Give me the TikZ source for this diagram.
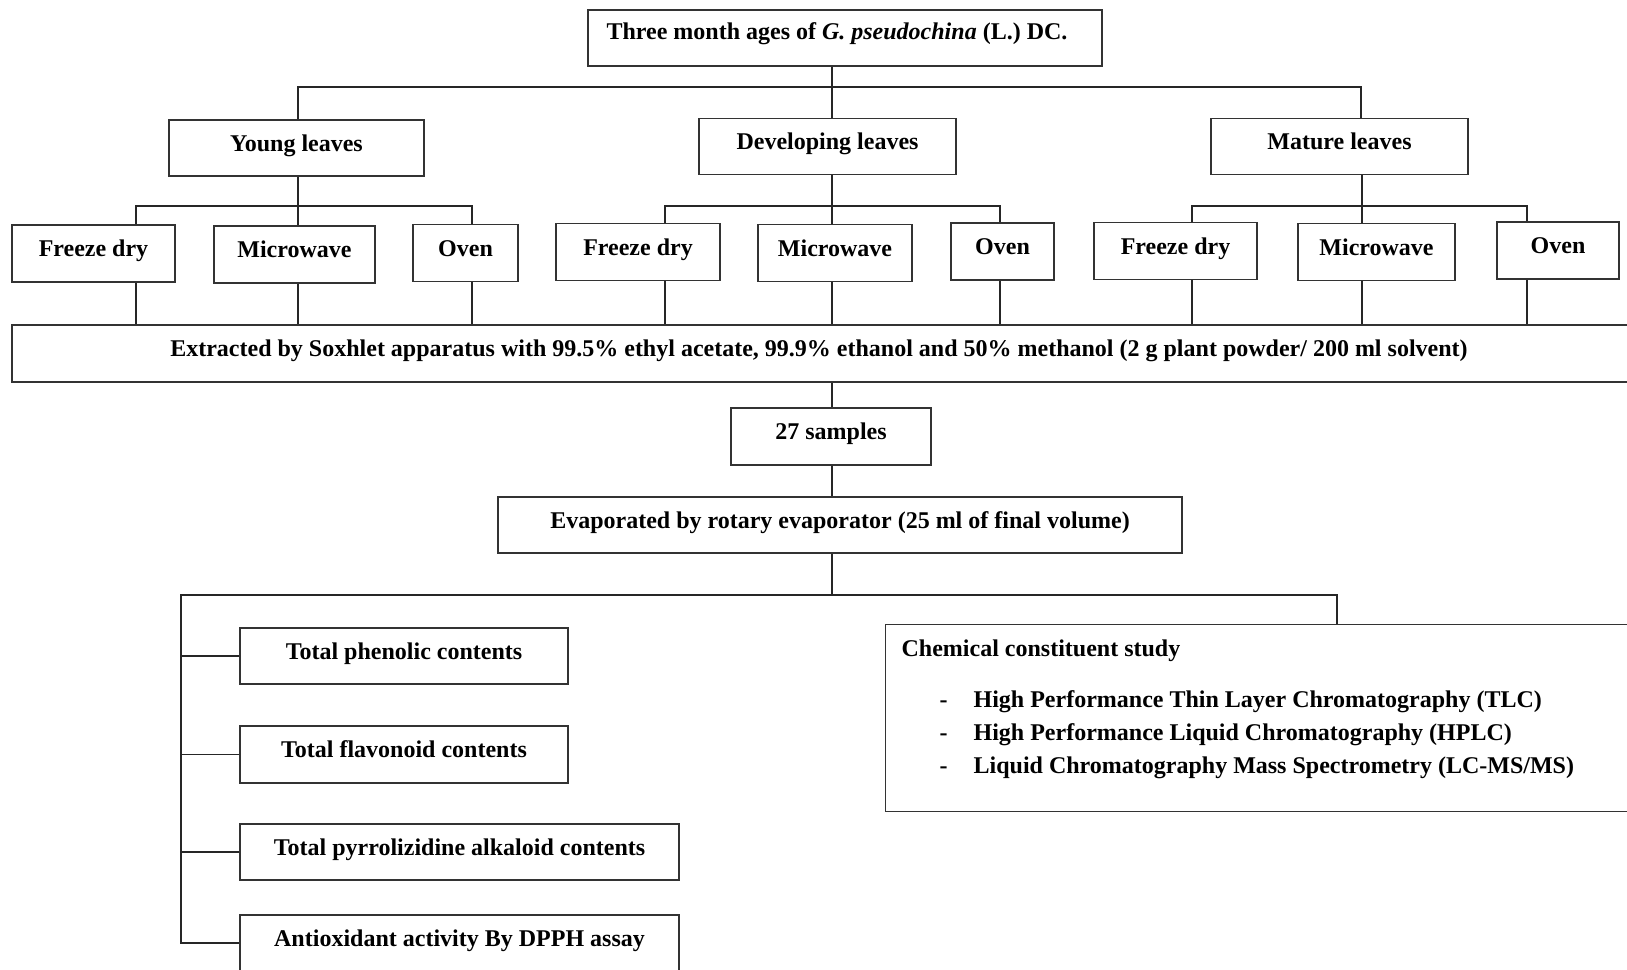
\documentclass[tikz,border=0pt]{standalone}
\usepackage{fontspec}
\setmainfont{Liberation Serif}
\usepackage{tikz}
\usetikzlibrary{positioning}

\begin{document}
\begin{tikzpicture}[
  x=1pt, y=-1pt,
  box/.style={draw=black!80, line width=1.3pt, inner sep=0pt, minimum height=57pt,
    text height=16pt, text depth=10pt, font=\fontsize{24}{33}\selectfont\bfseries},
  link/.style={draw=black!85, line width=1.1pt},
]
\useasboundingbox (0,0) rectangle (1627,969);
\clip (0,0) rectangle (1627,969);
% top and leaf ages
\node[box, minimum width=514pt, minimum height=56pt, text depth=14pt] (top) at (845,38)
  {Three month ages of \textit{G. pseudochina} (L.) DC.\hspace*{16pt}};
\node[box, minimum width=255pt, minimum height=56pt] (young) at (296.5,148) {Young leaves};
\node[box, minimum width=257pt, minimum height=56pt] (dev) at (827.5,146.5) {Developing leaves};
\node[box, minimum width=257pt, minimum height=56pt] (mature) at (1339.5,146.5) {Mature leaves};
% drying methods
\node[box, minimum width=163pt] (fy1) at (93.5,253.5) {Freeze dry};
\node[box, minimum width=161pt] (mw1) at (294.5,254.5) {Microwave};
\node[box, minimum width=105pt] (ov1) at (465.5,253) {Oven};
\node[box, minimum width=164pt] (fy2) at (638,252) {Freeze dry};
\node[box, minimum width=154pt] (mw2) at (835,253) {Microwave};
\node[box, minimum width=103pt] (ov2) at (1002.5,251.5) {Oven};
\node[box, minimum width=163pt] (fy3) at (1175.5,251) {Freeze dry};
\node[box, minimum width=157pt] (mw3) at (1376.5,252) {Microwave};
\node[box, minimum width=122pt] (ov3) at (1558,250.5) {Oven};
% extraction
\node[box, minimum width=1628pt] (extr) at (826,353.5)
  {Extracted by Soxhlet apparatus with 99.5\% ethyl acetate, 99.9\% ethanol and 50\% methanol (2 g plant powder/ 200 ml solvent)\hspace*{14pt}};
\node[box, minimum width=200pt] (samp) at (831,436.5) {27 samples};
\node[box, minimum width=684pt, minimum height=56pt] (evap) at (840,525)
  {Evaporated by rotary evaporator (25 ml of final volume)};
% analyses
\node[box, minimum width=328pt, minimum height=56pt] (phen) at (404,656) {Total phenolic contents};
\node[box, minimum width=328pt] (flav) at (404,754.5) {Total flavonoid contents};
\node[box, minimum width=439pt, minimum height=56pt] (pyrr) at (459.5,852) {Total pyrrolizidine alkaloid contents};
\node[box, minimum width=439pt, minimum height=56pt] (anti) at (459.5,943) {Antioxidant activity By DPPH assay};
\node[box, anchor=north west, minimum width=800pt, minimum height=187pt,
  text height=, text depth=] (chem) at (885,624)
  {\parbox[c][156pt][t]{768pt}{Chemical constituent study\\[18pt]
   \hspace*{38pt}\makebox[34pt][l]{-}High Performance Thin Layer Chromatography (TLC)\\
   \hspace*{38pt}\makebox[34pt][l]{-}High Performance Liquid Chromatography (HPLC)\\
   \hspace*{38pt}\makebox[34pt][l]{-}Liquid Chromatography Mass Spectrometry (LC-MS/MS)}};

% connectors
\coordinate (j0) at (832,87);
\draw[link] (top.south -| j0) -- (j0 |- dev.north);
\draw[link] (young.north -| 298,0) |- (j0) -| (mature.north -| 1361,0);
\foreach \g/\a/\b/\c/\p/\q/\r in {young/136/298/472/fy1/mw1/ov1,
    dev/665/832/1000/fy2/mw2/ov2, mature/1192/1362/1527/fy3/mw3/ov3}{
  \draw[link] (\g.south -| \b,0) -- (\q.north -| \b,0);
  \draw[link] (\p.north -| \a,0) |- (\c,206) -- (\r.north -| \c,0);
  \draw[link] (\p.south -| \a,0) -- (extr.north -| \a,0);
  \draw[link] (\q.south -| \b,0) -- (extr.north -| \b,0);
  \draw[link] (\r.south -| \c,0) -- (extr.north -| \c,0);
}
\draw[link] (extr.south -| j0) -- (samp.north -| j0);
\draw[link] (samp.south -| j0) -- (evap.north -| j0);
\draw[link] (evap.south -| j0) -- (832,595);
\draw[link] (chem.north -| 1337,0) |- (181,595) |- (anti.west);
\foreach \t in {phen,flav,pyrr}
  \draw[link] (\t.west) -- (\t.west -| 181,0);
\end{tikzpicture}
\end{document}
